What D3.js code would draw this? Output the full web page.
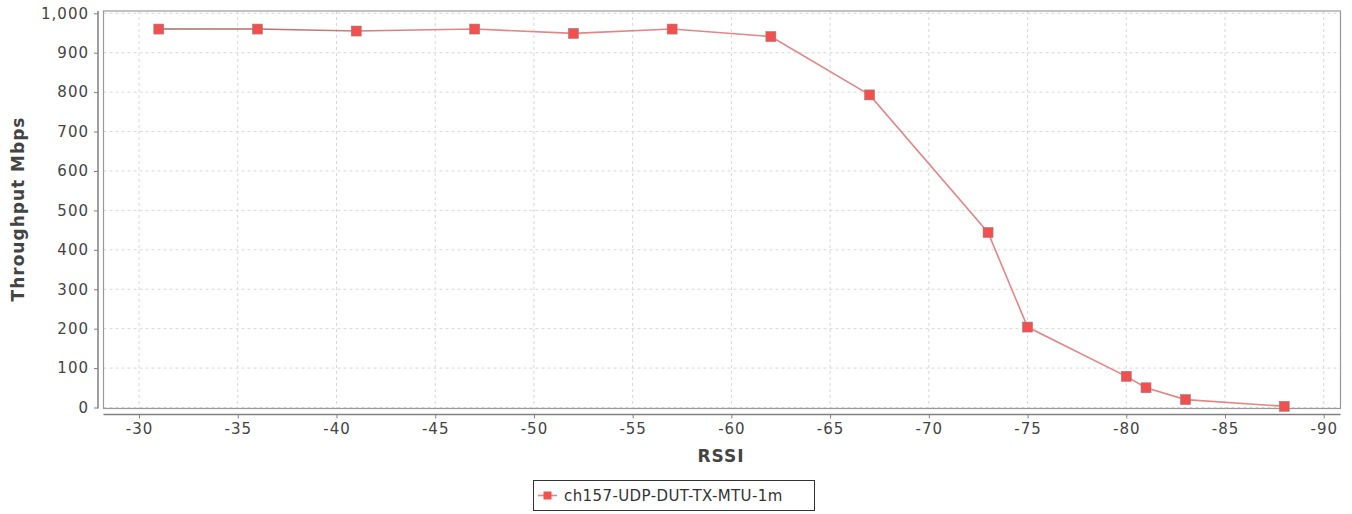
<!DOCTYPE html>
<html>
<head>
<meta charset="utf-8">
<script src="https://cdn.jsdelivr.net/npm/d3@7"></script>
<style>
  body { margin: 0; background: #fff; }
  text { font-family: "DejaVu Sans", sans-serif; }
</style>
</head>
<body>
<svg id="chart" width="1352" height="514"></svg>
<script>
// data
let rssi = [-31, -36, -41, -47, -52, -57, -62, -67, -73, -75, -80, -81, -83, -88]
let throughput = [960, 960, 955, 960, 949, 960, 941, 793, 444, 204, 79, 50, 20, 3]
let xTicks = [-30, -35, -40, -45, -50, -55, -60, -65, -70, -75, -80, -85, -90]
let yTicks = [0, 100, 200, 300, 400, 500, 600, 700, 800, 900, 1000]
let seriesName = "ch157-UDP-DUT-TX-MTU-1m"

let points = rssi.map((r, i) => ({ r: r, t: throughput[i] }))

let svg = d3.select("#chart")

let pLeft = 103.5, pRight = 1340.5, pTop = 11, pBottom = 408.5

let x = d3.scaleLinear().domain([-28.2, -90.85]).range([pLeft, pRight])
let y = d3.scaleLinear().domain([0, 1000]).range([407.5, 13.3])

// plot background + grid
svg.append("rect")
    .attr("x", pLeft).attr("y", pTop)
    .attr("width", pRight - pLeft).attr("height", pBottom - pTop)
    .attr("fill", "#fff")

let grid = svg.append("g")
grid.selectAll(".vg").data(xTicks).enter().append("line")
    .attr("x1", d => x(d)).attr("x2", d => x(d))
    .attr("y1", pTop).attr("y2", pBottom)
    .attr("stroke", "#d8d8d8").attr("stroke-dasharray", "3,3")
grid.selectAll(".hg").data(yTicks).enter().append("line")
    .attr("x1", pLeft).attr("x2", pRight)
    .attr("y1", d => y(d)).attr("y2", d => y(d))
    .attr("stroke", "#d8d8d8").attr("stroke-dasharray", "3,3")

// plot frame
svg.append("rect")
    .attr("x", pLeft).attr("y", pTop)
    .attr("width", pRight - pLeft).attr("height", pBottom - pTop)
    .attr("fill", "none").attr("stroke", "#999").attr("stroke-width", 1.2)

// y axis, offset to the left of the plot
let yAxis = svg.append("g")
    .attr("transform", "translate(98,0)")
    .call(d3.axisLeft(y).tickValues(yTicks).tickSize(4).tickPadding(5)
        .tickFormat(d3.format(",")))
yAxis.select(".domain").attr("d", "M0," + pTop + "V" + pBottom)
    .attr("stroke", "#808080").attr("stroke-width", 1.5)
yAxis.selectAll(".tick line").attr("stroke", "#808080")
yAxis.selectAll(".tick text")
    .attr("fill", "#444").attr("font-size", 15).attr("letter-spacing", 1)

// x axis, offset below the plot (plain hyphen for negatives)
let xAxis = svg.append("g")
    .attr("transform", "translate(0,414.5)")
    .call(d3.axisBottom(x).tickValues(xTicks).tickSize(4).tickPadding(5)
        .tickFormat(d => String(d)))
xAxis.select(".domain").attr("d", "M" + pLeft + ",0H" + pRight)
    .attr("stroke", "#808080").attr("stroke-width", 1.5)
xAxis.selectAll(".tick line").attr("stroke", "#808080")
xAxis.selectAll(".tick text")
    .attr("fill", "#444").attr("font-size", 15).attr("letter-spacing", 1)

// axis titles
svg.append("text")
    .attr("transform", "translate(24,209) rotate(-90)")
    .attr("text-anchor", "middle")
    .attr("font-size", 17).attr("font-weight", "bold").attr("letter-spacing", 1)
    .attr("fill", "#444")
    .text("Throughput Mbps")

svg.append("text")
    .attr("x", 721).attr("y", 462)
    .attr("text-anchor", "middle")
    .attr("font-size", 17).attr("font-weight", "bold").attr("letter-spacing", 1)
    .attr("fill", "#444")
    .text("RSSI")

// line gradient: darker at the start
let defs = svg.append("defs")
let grad = defs.append("linearGradient")
    .attr("id", "lineGrad")
    .attr("gradientUnits", "userSpaceOnUse")
    .attr("x1", x(-31)).attr("x2", x(-45)).attr("y1", 0).attr("y2", 0)
grad.append("stop").attr("offset", "0%").attr("stop-color", "#a86a6a")
grad.append("stop").attr("offset", "35%").attr("stop-color", "#b57070")
grad.append("stop").attr("offset", "100%").attr("stop-color", "#e58585")

let line = d3.line().x(d => x(d.r)).y(d => y(d.t))

svg.append("path")
    .datum(points)
    .attr("d", line)
    .attr("fill", "none")
    .attr("stroke", "url(#lineGrad)")
    .attr("stroke-width", 1.6)

svg.selectAll(".pt").data(points).enter().append("rect")
    .attr("class", "pt")
    .attr("x", d => x(d.r) - 5).attr("y", d => y(d.t) - 5)
    .attr("width", 10).attr("height", 10)
    .attr("fill", "#f24f4f").attr("stroke", "#a08080").attr("stroke-width", 0.6)

// legend
let lg = svg.append("g")
lg.append("rect")
    .attr("x", 533.5).attr("y", 480.5).attr("width", 281).attr("height", 30)
    .attr("fill", "#fff").attr("stroke", "#333")
lg.append("line")
    .attr("x1", 538).attr("x2", 557).attr("y1", 495.5).attr("y2", 495.5)
    .attr("stroke", "#e58585").attr("stroke-width", 1.6)
lg.append("rect")
    .attr("x", 543.5).attr("y", 491.5).attr("width", 8).attr("height", 8)
    .attr("fill", "#f24f4f")
lg.append("text")
    .attr("x", 564).attr("y", 501)
    .attr("font-size", 15).attr("fill", "#333").attr("letter-spacing", 0.4)
    .text(seriesName)
</script>
</body>
</html>
